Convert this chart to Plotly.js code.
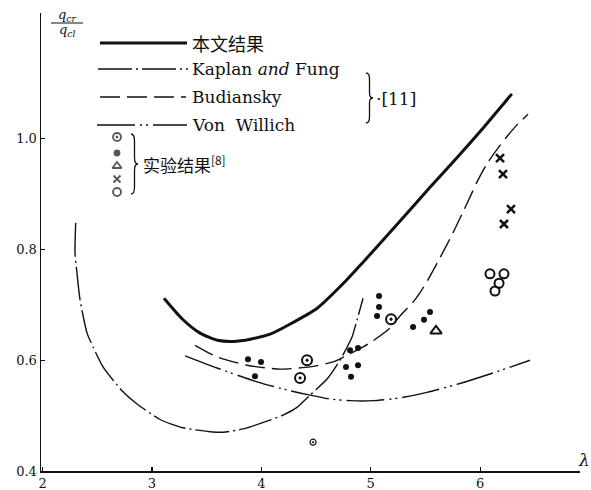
<!DOCTYPE html>
<html>
<head>
<meta charset="utf-8">
<script src="https://cdn.plot.ly/plotly-3.0.1.min.js"></script>
<style>html,body{margin:0;padding:0;background:#fff;}#chart{width:591px;height:490px;}</style>
</head>
<body>
<div id="chart"></div>
<script>
// ---- data ----
const xTicks = [2, 3, 4, 5, 6];
const yTicks = [0.4, 0.6, 0.8, 1.0];
const yTickText = ['0.4', '0.6', '0.8', '1.0'];

// 本文结果 (solid)
const presentX = [3.11, 3.28, 3.44, 3.60, 3.74, 3.90, 4.08, 4.26, 4.51, 4.78, 4.93, 5.24, 5.54, 5.79, 6.00, 6.29];
const presentY = [0.712, 0.674, 0.649, 0.636, 0.634, 0.638, 0.647, 0.665, 0.694, 0.745, 0.777, 0.845, 0.912, 0.966, 1.013, 1.081];

// Kaplan and Fung (dash-dot)
const kfX = [2.303, 2.297, 2.315, 2.343, 2.407, 2.462, 2.553, 2.736, 2.864, 3.074, 3.284, 3.531, 3.650, 3.833, 4.052, 4.198, 4.326, 4.445, 4.601, 4.719, 4.829, 4.875, 4.930];
const kfY = [0.848, 0.794, 0.757, 0.709, 0.649, 0.624, 0.588, 0.543, 0.521, 0.493, 0.478, 0.471, 0.470, 0.476, 0.490, 0.501, 0.515, 0.537, 0.566, 0.600, 0.642, 0.673, 0.712];

// Budiansky (dashed)
const budX = [3.394, 3.595, 3.869, 4.171, 4.445, 4.655, 4.783, 4.930, 5.021, 5.176, 5.268, 5.387, 5.451, 5.542, 5.633, 5.752, 5.844, 5.908, 5.972, 6.063, 6.182, 6.246, 6.337, 6.438];
const budY = [0.627, 0.606, 0.591, 0.584, 0.588, 0.597, 0.609, 0.624, 0.635, 0.658, 0.680, 0.705, 0.722, 0.752, 0.785, 0.830, 0.868, 0.895, 0.922, 0.955, 0.988, 1.004, 1.025, 1.044];

// Von Willich (dash-dot-dot)
const vwX = [3.303, 3.595, 3.961, 4.262, 4.445, 4.628, 4.811, 5.021, 5.268, 5.515, 5.816, 6.118, 6.456];
const vwY = [0.608, 0.586, 0.561, 0.545, 0.537, 0.530, 0.527, 0.527, 0.532, 0.542, 0.558, 0.577, 0.600];

// 实验结果 [8]
const ringDotX = [4.418, 4.354, 5.186];
const ringDotY = [0.600, 0.568, 0.674];
const smallRingX = [4.473];
const smallRingY = [0.452];
const dotX = [3.878, 3.997, 3.942, 4.811, 4.884, 4.774, 4.884, 4.820, 5.076, 5.076, 5.058, 5.387, 5.487, 5.542];
const dotY = [0.602, 0.597, 0.571, 0.618, 0.622, 0.588, 0.591, 0.570, 0.716, 0.696, 0.680, 0.660, 0.673, 0.687];
const triX = [5.597];
const triY = [0.653];
const crossX = [6.182, 6.209, 6.282, 6.218];
const crossY = [0.965, 0.936, 0.873, 0.846];
const circX = [6.090, 6.218, 6.173, 6.136];
const circY = [0.756, 0.756, 0.739, 0.725];

// legend key symbols for the experimental group
const keySymbols = ['circle-open-dot', 'circle', 'triangle-up-open', 'x-thin-open', 'circle-open'];

// ---- geometry helpers (plot area in page pixels) ----
const L = 41, R = 580, T = 13, B = 471;
const px = X => (X - L) / (R - L);
const py = Y => (B - Y) / (B - T);

const serif = 'DejaVu Serif';
const cjk = 'Noto Sans CJK SC';

const dashKF = '34px,4px,2px,4px';
const dashBud = '20px,7px';
const dashVW = '38px,5px,2px,4px,2px,5px';

function lineTrace(x, y, width, dash) {
  return {x: x, y: y, type: 'scatter', mode: 'lines',
    line: {color: '#111', width: width, dash: dash, shape: 'spline', smoothing: 0.6},
    hoverinfo: 'skip', showlegend: false};
}
function markTrace(x, y, symbol, size, lw) {
  return {x: x, y: y, type: 'scatter', mode: 'markers',
    marker: {symbol: symbol, size: size, color: '#111', line: {color: '#111', width: lw}},
    hoverinfo: 'skip', showlegend: false};
}

const data = [
  lineTrace(presentX, presentY, 3, 'solid'),
  lineTrace(kfX, kfY, 1.4, dashKF),
  lineTrace(budX, budY, 1.4, dashBud),
  lineTrace(vwX, vwY, 1.4, dashVW),
  markTrace(ringDotX, ringDotY, 'circle-open-dot', 10, 2),
  markTrace(smallRingX, smallRingY, 'circle-open-dot', 6, 1.2),
  markTrace(dotX, dotY, 'circle', 6, 0),
  markTrace(triX, triY, 'triangle-up-open', 10, 2),
  markTrace(crossX, crossY, 'x-thin-open', 8, 2.5),
  markTrace(circX, circY, 'circle-open', 9, 2),
  // legend key column (overlay axes measured in page pixels)
  {x: [117, 117, 117, 117, 117], y: [137, 153, 166, 179, 192], xaxis: 'x2', yaxis: 'y2',
    type: 'scatter', mode: 'markers', hoverinfo: 'skip', showlegend: false,
    marker: {symbol: keySymbols, size: [8, 5, 8, 7, 8], color: '#111', line: {color: '#111', width: 1.8}}}
];

// legend sample lines
function hline(x0, x1, y, width, dash) {
  return {type: 'line', xref: 'paper', yref: 'paper', x0: px(x0), x1: px(x1), y0: py(y), y1: py(y),
    line: {color: '#111', width: width, dash: dash}};
}
function brace(x0, yTop, yBot, w) {
  const h = yBot - yTop, ym = (yTop + yBot) / 2, xm = x0 + w / 2, xt = x0 + w;
  const P = (X, Y) => px(X).toFixed(5) + ',' + py(Y).toFixed(5);
  const path = 'M' + P(x0, yTop) + ' Q' + P(xm, yTop) + ' ' + P(xm, yTop + h * 0.12) +
    ' L' + P(xm, ym - h * 0.1) + ' Q' + P(xm, ym) + ' ' + P(xt, ym) +
    ' Q' + P(xm, ym) + ' ' + P(xm, ym + h * 0.1) +
    ' L' + P(xm, yBot - h * 0.12) + ' Q' + P(xm, yBot) + ' ' + P(x0, yBot);
  return {type: 'path', xref: 'paper', yref: 'paper', path: path, line: {color: '#111', width: 1.3}};
}

const shapes = [
  hline(100, 187, 43, 3, 'solid'),
  hline(98, 188, 69, 1.4, dashKF),
  hline(100, 186, 97, 1.4, dashBud),
  hline(97, 187, 125, 1.4, dashVW),
  brace(366, 73, 123, 7),
  brace(131, 134, 194, 7),
  {type: 'line', xref: 'paper', yref: 'paper', x0: px(51), x1: px(83), y0: py(23), y1: py(23), line: {color: '#111', width: 1}}
];

function txt(X, Y, text, size, family, anchor, style) {
  return {xref: 'paper', yref: 'paper', x: px(X), y: py(Y), text: text, showarrow: false,
    xanchor: anchor || 'left', yanchor: 'middle',
    font: {family: family || serif, size: size || 15, color: '#111', style: style || 'normal'}};
}

const annotations = [
  txt(190, 43, '本文结果', 18, cjk),
  txt(190, 69, 'Kaplan <i>and</i> Fung', 17),
  txt(190, 97, 'Budiansky', 17),
  txt(190, 125, 'Von  Willich', 17),
  txt(374, 99, '·[11]', 17),
  txt(141, 164, '实验结果<sup>[8]</sup>', 17, cjk),
  txt(67, 15, 'q<sub>cr</sub>', 13, serif, 'center', 'italic'),
  txt(67, 31, 'q<sub>cl</sub>', 13, serif, 'center', 'italic'),
  txt(584, 460, 'λ', 17, serif, 'center', 'italic')
];

const axisCommon = {
  showline: true, linecolor: '#111', linewidth: 1.5, mirror: false,
  showgrid: false, zeroline: false, ticks: 'inside', ticklen: 4, tickcolor: '#111', tickwidth: 1.2,
  tickfont: {family: serif, size: 13, color: '#111'}, fixedrange: true
};

const layout = {
  width: 591, height: 490,
  margin: {l: L, r: 591 - R, t: T, b: 490 - B},
  paper_bgcolor: '#fff', plot_bgcolor: '#fff',
  showlegend: false,
  xaxis: Object.assign({}, axisCommon, {range: [1.986, 6.913], tickvals: xTicks, ticktext: xTicks.map(String)}),
  yaxis: Object.assign({}, axisCommon, {range: [0.4, 1.227], tickvals: yTicks, ticktext: yTickText}),
  xaxis2: {overlaying: 'x', range: [L, R], visible: false, fixedrange: true},
  yaxis2: {overlaying: 'y', range: [B, T], visible: false, fixedrange: true},
  shapes: shapes,
  annotations: annotations
};

Plotly.newPlot('chart', data, layout, {staticPlot: true, displayModeBar: false});
</script>
</body>
</html>
